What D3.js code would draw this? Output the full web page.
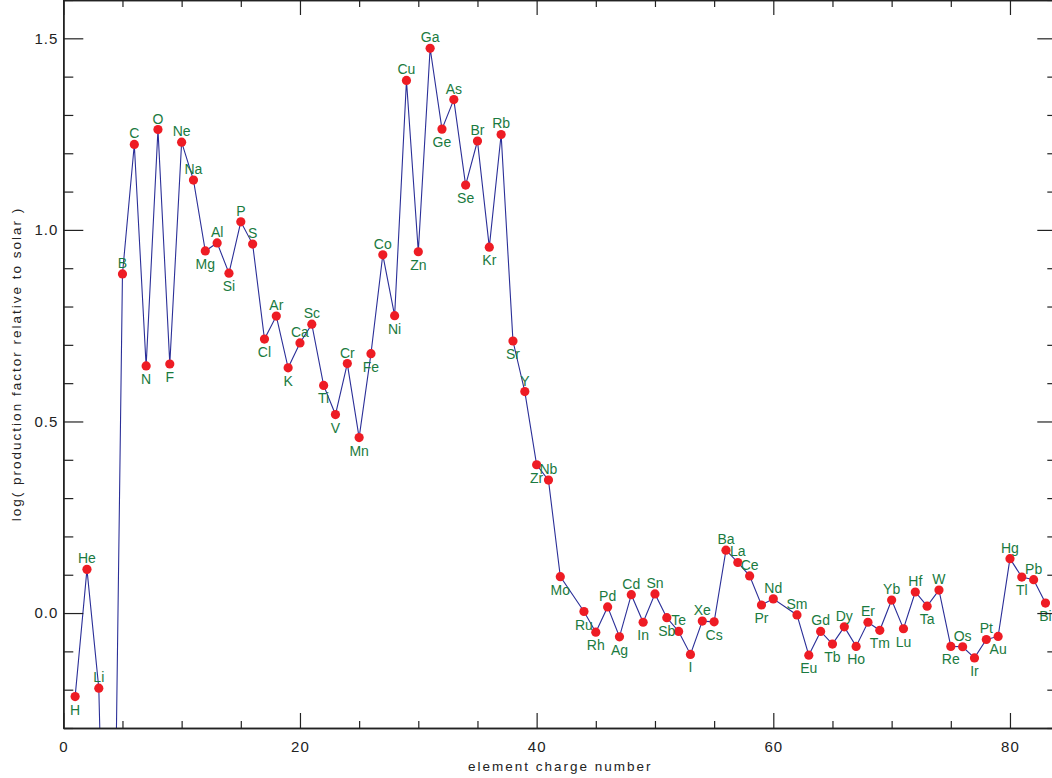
<!DOCTYPE html>
<html>
<head>
<meta charset="utf-8">
<script src="https://cdn.jsdelivr.net/npm/d3@7"></script>
<style>
  body { margin: 0; background: #fff; }
  svg { display: block; }
  .axis text { font-family: "Liberation Sans", sans-serif; font-size: 15px; letter-spacing: 1px; fill: #222; }
  .axis path, .axis line { stroke: #222; }
  .title { font-family: "Liberation Sans", sans-serif; font-size: 13.5px; letter-spacing: 2px; fill: #222; }
  .lbl { font-family: "Liberation Sans", sans-serif; font-size: 14px; fill: #1a7a40; }
</style>
</head>
<body>
<div id="chart"></div>
<script>
// element symbols, charge numbers and log production factors
const symbols = ["H","He","Li","Be","B","C","N","O","F","Ne","Na","Mg","Al","Si","P","S","Cl","Ar","K","Ca",
  "Sc","Ti","V","Cr","Mn","Fe","Co","Ni","Cu","Zn","Ga","Ge","As","Se","Br","Kr","Rb","Sr","Y","Zr",
  "Nb","Mo","Ru","Rh","Pd","Ag","Cd","In","Sn","Sb","Te","I","Xe","Cs","Ba","La","Ce","Pr","Nd",
  "Sm","Eu","Gd","Tb","Dy","Ho","Er","Tm","Yb","Lu","Hf","Ta","W","Re","Os","Ir","Pt","Au","Hg",
  "Tl","Pb","Bi"];
const charges = [1,2,3,4,5,6,7,8,9,10,11,12,13,14,15,16,17,18,19,20,
  21,22,23,24,25,26,27,28,29,30,31,32,33,34,35,36,37,38,39,40,
  41,42,44,45,46,47,48,49,50,51,52,53,54,55,56,57,58,59,60,
  62,63,64,65,66,67,68,69,70,71,72,73,74,75,76,77,78,79,80,
  81,82,83];
const logFactor = [-0.218,0.114,-0.196,-1.45,0.885,1.223,0.645,1.262,0.650,1.229,1.130,0.945,0.966,0.887,1.021,0.963,0.715,0.775,0.640,0.705,
  0.754,0.594,0.518,0.651,0.458,0.677,0.935,0.776,1.390,0.943,1.474,1.263,1.340,1.117,1.232,0.955,1.249,0.710,0.578,0.387,
  0.347,0.095,0.004,-0.050,0.016,-0.062,0.048,-0.024,0.050,-0.012,-0.048,-0.108,-0.021,-0.023,0.164,0.132,0.097,0.021,0.037,
  -0.005,-0.110,-0.048,-0.081,-0.036,-0.087,-0.024,-0.045,0.034,-0.041,0.055,0.018,0.060,-0.087,-0.088,-0.117,-0.069,-0.061,0.142,
  0.094,0.087,0.026];

const xMajor = [0, 20, 40, 60, 80];
const yMajor = [0.0, 0.5, 1.0, 1.5];

const W = 1052, H = 778;
const margin = {left: 63.3, top: 0},
    width = 994,
    height = 728;

const data = symbols.map((s, i) => ({sym: s, z: charges[i], v: logFactor[i]}));
// label goes above a point that sits higher than its neighbours' mean
data.forEach((d, i) => {
  const nb = [data[i - 1], data[i + 1]].filter(n => n);
  d.up = d.v >= d3.mean(nb, n => n.v);
});

const x = d3.scaleLinear().domain([0, 84]).range([0, width]);
const y = d3.scaleLinear().domain([-0.3, 1.6]).range([height, 0]);

const svg = d3.select("#chart").append("svg")
    .attr("width", W).attr("height", H);

svg.append("defs").append("clipPath").attr("id", "plotclip")
  .append("rect").attr("width", width).attr("height", height);

const g = svg.append("g").attr("transform", `translate(${margin.left},${margin.top})`);

const plot = g.append("g").attr("clip-path", "url(#plotclip)");

plot.append("path")
    .datum(data)
    .attr("fill", "none")
    .attr("stroke", "#2b2f98")
    .attr("stroke-width", 1.1)
    .attr("d", d3.line().x(d => x(d.z)).y(d => y(d.v)));

// points below the y range are only reached by the line
const inRange = data.filter(d => d.v >= y.domain()[0]);

plot.selectAll("circle")
  .data(inRange).join("circle")
    .attr("cx", d => x(d.z))
    .attr("cy", d => y(d.v))
    .attr("r", 4.6)
    .attr("fill", "#ee1c24");

plot.selectAll("text.lbl")
  .data(inRange).join("text")
    .attr("class", "lbl")
    .attr("x", d => x(d.z))
    .attr("y", d => y(d.v) + (d.up ? -6 : 18))
    .attr("text-anchor", "middle")
    .text(d => d.sym);

//--------------------------- AXES
const xMinor = d3.range(0, 85, 5).filter(v => !xMajor.includes(v));
const yMinor = d3.range(-3, 17).map(v => v / 10).filter(v => !yMajor.some(m => Math.abs(m - v) < 1e-9));

function axisGroup(axis, tx, ty) {
  const a = g.append("g").attr("class", "axis")
    .attr("transform", `translate(${tx},${ty})`)
    .call(axis);
  a.select(".domain").attr("stroke-width", 1.5);
  a.selectAll(".tick line").attr("stroke-width", 1.2);
  return a;
}

// bottom
axisGroup(d3.axisBottom(x).tickValues(xMajor).tickSizeInner(-15).tickSizeOuter(0).tickPadding(13.5).tickFormat(d3.format("d")), 0, height);
axisGroup(d3.axisBottom(x).tickValues(xMinor).tickSizeInner(-7).tickSizeOuter(0).tickFormat(""), 0, height);
// top
axisGroup(d3.axisTop(x).tickValues(xMajor).tickSizeInner(-15).tickSizeOuter(0).tickFormat(""), 0, 0);
axisGroup(d3.axisTop(x).tickValues(xMinor).tickSizeInner(-7).tickSizeOuter(0).tickFormat(""), 0, 0);
// left
axisGroup(d3.axisLeft(y).tickValues(yMajor).tickSizeInner(-20).tickSizeOuter(0).tickPadding(5).tickFormat(d3.format(".1f")), 0, 0);
axisGroup(d3.axisLeft(y).tickValues(yMinor).tickSizeInner(-10).tickSizeOuter(0).tickFormat(""), 0, 0);
// right
axisGroup(d3.axisRight(y).tickValues(yMajor).tickSizeInner(-20).tickSizeOuter(0).tickFormat(""), width, 0);
axisGroup(d3.axisRight(y).tickValues(yMinor).tickSizeInner(-10).tickSizeOuter(0).tickFormat(""), width, 0);

//--------------------------- TITLES
svg.append("text")
    .attr("class", "title")
    .attr("x", margin.left + width / 2)
    .attr("y", 771)
    .attr("text-anchor", "middle")
    .text("element charge number");

svg.append("text")
    .attr("class", "title")
    .attr("transform", `translate(21,${margin.top + height / 2}) rotate(-90)`)
    .attr("text-anchor", "middle")
    .text("log( production factor relative to solar )");
</script>
</body>
</html>
